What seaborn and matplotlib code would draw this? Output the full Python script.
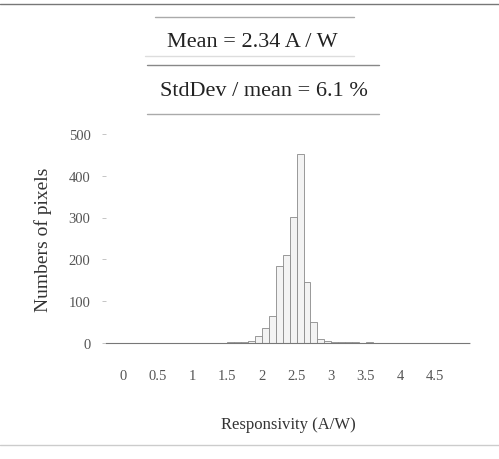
import numpy as np
import pandas as pd
import matplotlib
matplotlib.use("Agg")
import matplotlib.pyplot as plt
import seaborn as sns
from matplotlib.lines import Line2D

# histogram bins (A/W) and pixel counts
bin_edges = [round(0.1 * i, 1) for i in range(51)]
counts = [1, 1, 1, 1, 1, 1, 1, 1, 1, 1,
          1, 1, 1, 1, 1, 2, 2, 3, 4, 17,
          36, 65, 184, 210, 301, 452, 146, 50, 10, 6,
          3, 2, 2, 2, 1, 2, 1, 1, 1, 1,
          1, 1, 1, 1, 1, 1, 1, 1, 1, 0]
x_ticks = [0, 0.5, 1, 1.5, 2, 2.5, 3, 3.5, 4, 4.5]
x_tick_labels = ["0", "0.5", "1", "1.5", "2", "2.5", "3", "3.5", "4", "4.5"]
y_ticks = [0, 100, 200, 300, 400, 500]

centers = [(a + b) / 2 for a, b in zip(bin_edges[:-1], bin_edges[1:])]
data = pd.DataFrame({"resp": centers, "n": counts})

sns.set_style("white")
plt.rcParams["font.family"] = ["Liberation Serif", "DejaVu Serif"]

fig = plt.figure(figsize=(4.99, 4.60), dpi=100)
ax = fig.add_axes([0.212, 0.252, 0.73, 0.455])

sns.histplot(data=data, x="resp", weights="n", bins=bin_edges, ax=ax,
             color="#f3f3f3", edgecolor="#8a8a8a", linewidth=0.6, alpha=1)

ax.set_xlim(-0.25, 5.0)
ax.set_ylim(0, 500)
ax.set_xticks(x_ticks)
ax.set_xticklabels(x_tick_labels)
ax.set_yticks(y_ticks)
ax.tick_params(axis="x", length=0, pad=19, labelsize=10.5, colors="#555555")
ax.tick_params(axis="y", length=3, width=0.6, color="#bbbbbb", pad=8,
               labelsize=10.5, colors="#555555", direction="out")
ax.tick_params(axis="y", left=True)
for s in ["top", "right", "left"]:
    ax.spines[s].set_visible(False)
ax.spines["bottom"].set_color("#777777")
ax.spines["bottom"].set_linestyle((0, (3, 1)))
ax.spines["bottom"].set_linewidth(0.8)

ax.set_xlabel("Responsivity (A/W)", fontsize=12, color="#333333", labelpad=24)
ax.set_ylabel("Numbers of pixels", fontsize=14, color="#333333", labelpad=12)

# title boxes
fig.text(0.505, 0.908, "Mean = 2.34 A / W", ha="center", va="center",
         fontsize=16, color="#222222")
fig.text(0.529, 0.802, "StdDev / mean = 6.1 %", ha="center", va="center",
         fontsize=16, color="#222222")
for y, x0, x1, c in [(0.961, 0.31, 0.71, "#aaaaaa"), (0.876, 0.29, 0.71, "#dddddd"),
                     (0.857, 0.295, 0.76, "#888888"), (0.75, 0.295, 0.76, "#aaaaaa"),
                     (0.99, 0.0, 1.0, "#777777"), (0.03, 0.0, 1.0, "#cccccc")]:
    fig.add_artist(Line2D([x0, x1], [y, y], transform=fig.transFigure,
                          color=c, linewidth=1.0))

fig.savefig("out.png", dpi=100)
